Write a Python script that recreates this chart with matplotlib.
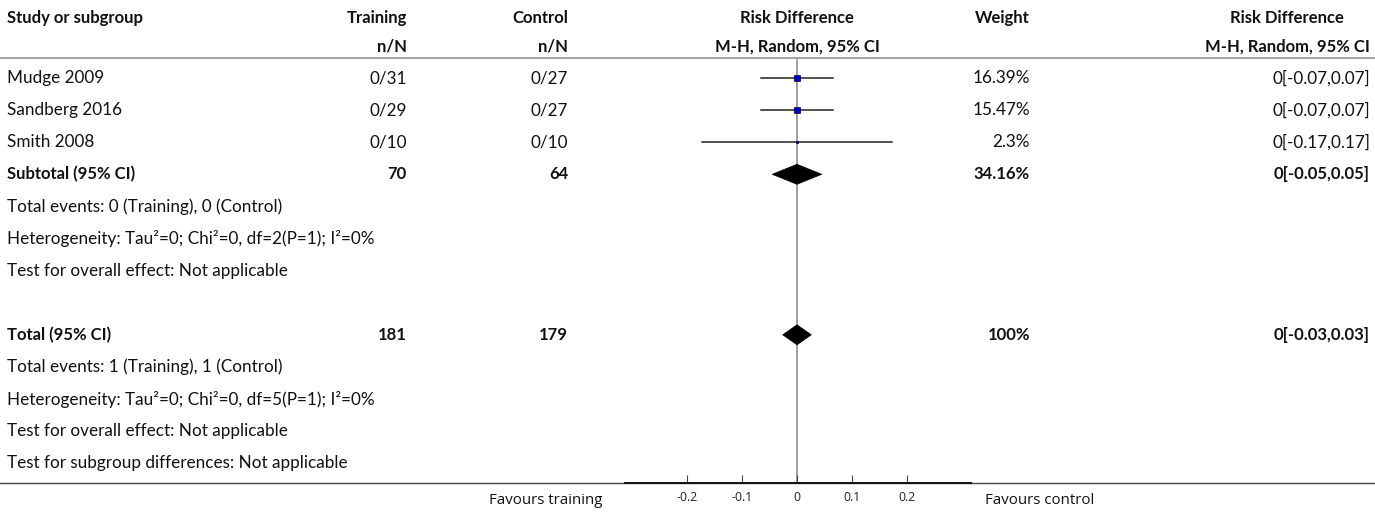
import matplotlib
matplotlib.use("Agg")
import matplotlib.pyplot as plt
from matplotlib.lines import Line2D
from matplotlib.patches import Polygon
import matplotlib.transforms as mtransforms

# ---------------- data ----------------
studies = ["Mudge 2009", "Sandberg 2016", "Smith 2008"]
train_nN = ["0/31", "0/29", "0/10"]
ctrl_nN = ["0/27", "0/27", "0/10"]
rd_est = [0.0, 0.0, 0.0]
rd_lo = [-0.065, -0.066, -0.172]
rd_hi = [0.065, 0.066, 0.172]
weights = ["16.39%", "15.47%", "2.3%"]
weight_val = [16.39, 15.47, 2.3]
rd_text = ["0[-0.07,0.07]", "0[-0.07,0.07]", "0[-0.17,0.17]"]

subtotal = dict(label="Subtotal (95% CI)", n1="70", n2="64", est=0.0, lo=-0.045, hi=0.045,
                weight="34.16%", text="0[-0.05,0.05]")
subtotal_notes = ["Total events: 0 (Training), 0 (Control)",
                  "Heterogeneity: Tau\u00b2=0; Chi\u00b2=0, df=2(P=1); I\u00b2=0%",
                  "Test for overall effect: Not applicable"]
total = dict(label="Total (95% CI)", n1="181", n2="179", est=0.0, lo=-0.026, hi=0.026,
             weight="100%", text="0[-0.03,0.03]")
total_notes = ["Total events: 1 (Training), 1 (Control)",
               "Heterogeneity: Tau\u00b2=0; Chi\u00b2=0, df=5(P=1); I\u00b2=0%",
               "Test for overall effect: Not applicable",
               "Test for subgroup differences: Not applicable"]
xticks = [-0.2, -0.1, 0, 0.1, 0.2]
xticklabels = ["-0.2", "-0.1", "0", "0.1", "0.2"]

# ---------------- layout ----------------
W, H = 1375, 513
fig = plt.figure(figsize=(W / 100, H / 100), dpi=100)

ax_left, ax_right = 625, 971     # pixel extent of the plot axis
ax_bottom_px = 483               # pixel y (from top) of the axis line
zero_px = 797
px_per_unit = 550
row0_px, row_h = 78, 32.1

ax = fig.add_axes([ax_left / W, (H - ax_bottom_px) / H, (ax_right - ax_left) / W, ax_bottom_px / H])
ax.set_xlim((ax_left - zero_px) / px_per_unit, (ax_right - zero_px) / px_per_unit)
r_bottom = (ax_bottom_px - row0_px) / row_h
r_top = (0 - row0_px) / row_h
ax.set_ylim(r_bottom, r_top)
ax.patch.set_visible(False)
for s in ["top", "left", "right"]:
    ax.spines[s].set_visible(False)
ax.spines["bottom"].set_color("#111111")
ax.spines["bottom"].set_linewidth(1.4)
ax.set_yticks([])
ax.set_xticks(xticks)
ax.set_xticklabels(xticklabels, fontfamily="Open Sans", fontsize=8.8, color="#222222")
ax.tick_params(axis="x", direction="in", length=6, width=0.8, color="#444444", pad=6)

def px2row(py):
    return (py - row0_px) / row_h

trans = mtransforms.blended_transform_factory(fig.transFigure, ax.transData)

def fx(px):
    return px / W

FONT = "Lato"
FS = 12.3
FSB = 12.0

def put(px, row, s, ha="left", bold=False, **kw):
    ax.text(fx(px), row, s, transform=trans, ha=ha, va="center",
            fontsize=kw.pop("fontsize", FSB if bold else FS),
            fontfamily=kw.pop("fontfamily", FONT), fontweight="bold" if bold else "normal",
            color=kw.pop("color", "#111111"), clip_on=False, **kw)

# columns
X_STUDY, X_TRAIN, X_CTRL, X_RD, X_WEIGHT, X_RDT, X_RDH = 7, 407, 568, 797, 1030, 1370, 1287

# header
h1, h2 = px2row(18), px2row(47)
put(X_STUDY, h1, "Study or subgroup", bold=True)
put(X_TRAIN, h1, "Training", ha="right", bold=True)
put(X_TRAIN, h2, "n/N", ha="right", bold=True)
put(X_CTRL, h1, "Control", ha="right", bold=True)
put(X_CTRL, h2, "n/N", ha="right", bold=True)
put(X_RD, h1, "Risk Difference", ha="center", bold=True)
put(X_RD, h2, "M-H, Random, 95% CI", ha="center", bold=True)
put(X_WEIGHT, h1, "Weight", ha="right", bold=True)
put(X_RDH, h1, "Risk Difference", ha="center", bold=True)
put(X_RDH, h2, "M-H, Random, 95% CI", ha="center", bold=True)

# horizontal rules across the figure
ax.add_line(Line2D([0, 1], [px2row(58)] * 2, transform=trans, color="#9a9a9a", lw=1.3, clip_on=False))
ax.add_line(Line2D([0, 1], [px2row(483)] * 2, transform=trans, color="#444444", lw=1.0, clip_on=False))

# zero line
ax.add_line(Line2D([0, 0], [px2row(60), r_bottom], color="#999999", lw=1.3, zorder=1))

# studies
for i, name in enumerate(studies):
    r = i
    put(X_STUDY, r, name)
    put(X_TRAIN, r, train_nN[i], ha="right")
    put(X_CTRL, r, ctrl_nN[i], ha="right")
    put(X_WEIGHT, r, weights[i], ha="right")
    put(X_RDT, r, rd_text[i], ha="right")
    ax.plot([rd_lo[i], rd_hi[i]], [r, r], color="#222222", lw=1.1, zorder=2)
    ms = 4.6 * (weight_val[i] / max(weight_val)) ** 0.5
    ax.plot([rd_est[i]], [r], marker="s", ms=ms, mfc="#0000cc", mec="#000044", mew=0.5, zorder=3)

def diamond(d, r, half_h):
    ax.add_patch(Polygon([[d["lo"], r], [d["est"], r - half_h], [d["hi"], r], [d["est"], r + half_h]],
                         closed=True, fc="black", ec="black", lw=0.5, zorder=3))

def summary(d, r, notes):
    put(X_STUDY, r, d["label"], bold=True)
    put(X_TRAIN, r, d["n1"], ha="right", bold=True)
    put(X_CTRL, r, d["n2"], ha="right", bold=True)
    put(X_WEIGHT, r, d["weight"], ha="right", bold=True)
    put(X_RDT, r, d["text"], ha="right", bold=True)
    diamond(d, r, 10 / row_h)
    for j, t in enumerate(notes):
        put(X_STUDY, r + 1 + j, t)

summary(subtotal, 3, subtotal_notes)
summary(total, 8, total_notes)

# favours labels
fy = px2row(500)
put(546, fy, "Favours training", ha="center", fontfamily="Open Sans", fontsize=10.8)
put(985, fy, "Favours control", ha="left", fontfamily="Open Sans", fontsize=10.8)

fig.savefig("out.png", dpi=100)
